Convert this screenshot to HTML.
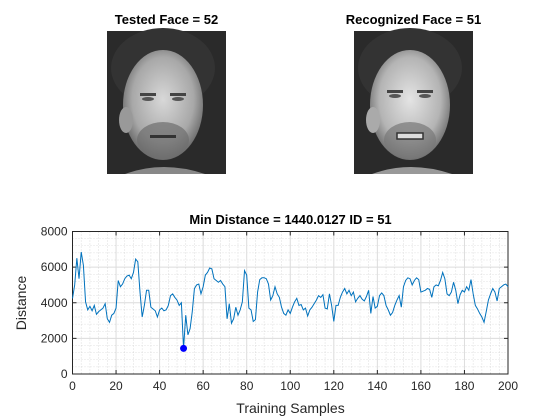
<!DOCTYPE html>
<html><head><meta charset="utf-8"><style>
body{margin:0;background:#fff;}
svg{display:block;font-family:"Liberation Sans",Arial,sans-serif;}
</style></head><body>
<svg id="fig" width="560" height="420" viewBox="0 0 560 420">
<defs>
<radialGradient id="skin" cx="50%" cy="45%" r="55%"><stop offset="0" stop-color="#d8d8d8"/><stop offset="0.7" stop-color="#a8a8a8"/><stop offset="1" stop-color="#6a6a6a"/></radialGradient>
<radialGradient id="skin2" cx="50%" cy="45%" r="55%"><stop offset="0" stop-color="#e4e4e4"/><stop offset="0.7" stop-color="#b4b4b4"/><stop offset="1" stop-color="#707070"/></radialGradient>
</defs>
<g>
<text x="166.5" y="24" text-anchor="middle" font-size="13" font-weight="bold" fill="#000">Tested Face = 52</text>
<g>
<rect x="107" y="31" width="119" height="143" fill="#2a2a2a"/>
<ellipse cx="163" cy="68" rx="52" ry="40" fill="#333"/>
<ellipse cx="163" cy="105" rx="40" ry="55" fill="url(#skin)"/>
<ellipse cx="126" cy="120" rx="7" ry="13" fill="#999"/>
<rect x="140" y="93" width="16" height="3" fill="#444"/><rect x="170" y="93" width="16" height="3" fill="#444"/>
<ellipse cx="148" cy="99" rx="6" ry="2" fill="#555"/><ellipse cx="178" cy="99" rx="6" ry="2" fill="#555"/>
<ellipse cx="163" cy="140" rx="26" ry="18" fill="#6e6e6e" opacity="0.7"/>
<rect x="150" y="135" width="26" height="3" fill="#333"/>
<path d="M125 174 Q163 160 205 174Z" fill="#888"/>
</g></g>
<g>
<text x="413.5" y="24" text-anchor="middle" font-size="13" font-weight="bold" fill="#000">Recognized Face = 51</text>
<g>
<rect x="354" y="31" width="119" height="143" fill="#2a2a2a"/>
<ellipse cx="410" cy="68" rx="52" ry="40" fill="#333"/>
<ellipse cx="410" cy="105" rx="40" ry="55" fill="url(#skin2)"/>
<ellipse cx="373" cy="120" rx="7" ry="13" fill="#aaa"/>
<rect x="387" y="90" width="16" height="3" fill="#444"/><rect x="417" y="90" width="16" height="3" fill="#444"/>
<ellipse cx="395" cy="96" rx="6" ry="2" fill="#555"/><ellipse cx="425" cy="96" rx="6" ry="2" fill="#555"/>
<ellipse cx="410" cy="140" rx="26" ry="18" fill="#777" opacity="0.7"/>
<rect x="397" y="133" width="26" height="6" fill="#ddd" stroke="#333" stroke-width="1.5"/>
<path d="M372 174 Q410 160 452 174Z" fill="#999"/>
</g></g>
<text x="290.5" y="224" text-anchor="middle" font-size="13" font-weight="bold" fill="#000">Min Distance = 1440.0127 ID = 51</text>
<g id="grid"></g>
<g id="axes"></g>
<path id="line" fill="none" stroke="#0072bd" stroke-width="1"/>
<circle id="minpt" r="3.5" fill="#0000ff"/>
<text x="26" y="303" transform="rotate(-90 26 303)" text-anchor="middle" font-size="14" fill="#262626">Distance</text>
<text x="290.5" y="413" text-anchor="middle" font-size="14" fill="#262626">Training Samples</text>
</svg>
<script>
const distances=[4240,5000,6500,5350,6850,6100,4050,3600,3800,3550,3850,3350,3500,3600,3700,3950,3100,2900,3300,3400,
3700,5250,4900,5050,5350,5500,5550,5350,5700,6450,6300,4600,3200,3850,4700,4700,3750,3650,3550,3200,
3600,3700,3550,3600,3850,4400,4500,4300,4150,3850,4000,1440,3300,2200,2550,3500,4800,5000,5050,4500,
4900,5550,5700,5950,5900,5350,5250,5150,5250,5050,4900,3100,3950,2850,3100,3750,3300,3600,4050,5800,
5550,3700,3600,2950,3050,4600,5300,5400,5400,5350,5050,4150,4400,4900,4500,4300,3750,3400,3300,3600,
3400,3750,4050,4250,3850,3900,3600,3700,3250,3600,3750,3950,4150,4400,4300,4450,3700,3650,4500,3850,
2950,3850,3850,4300,4600,4800,4500,4700,4400,4600,4050,4250,4400,4200,4100,4350,4700,3400,4350,3700,
3800,4400,4550,4400,3850,3600,3300,3450,3850,4150,4400,3750,4900,5250,5400,5350,5000,5250,5400,5300,
4600,4650,4700,4800,4750,4300,4900,5000,4950,5250,5700,5350,4500,4400,4600,5150,4700,3950,4450,4700,
4600,4900,4700,5300,4500,3850,3650,3400,3200,2900,3500,4150,4500,4800,4600,4100,4800,4900,5000,5050,4900];
const minIndex=51;
const minValue=1440.0127;
const xTicks=[0,20,40,60,80,100,120,140,160,180,200];
const yTicks=[0,2000,4000,6000,8000];
const L=72.5,R=508,T=231.5,B=374;
const xs=v=>L+(v-0)/(200-0)*(R-L);
const ys=v=>B-(v-0)/(8000-0)*(B-T);
const NS='http://www.w3.org/2000/svg';
function mk(tag,attrs,parent){const e=document.createElementNS(NS,tag);for(const k in attrs)e.setAttribute(k,attrs[k]);parent.appendChild(e);return e;}
const grid=document.getElementById('grid'),axes=document.getElementById('axes');
for(let v=0;v<=200;v+=4){if(v%20===0)continue;const g=mk('line',{x1:xs(v),x2:xs(v),y1:T,y2:B,stroke:'#c8c8c8','stroke-width':0.6,'stroke-dasharray':'1 2'},grid);

}
for(let v=0;v<=8000;v+=400){if(v%2000===0)continue;const g=mk('line',{x1:L,x2:R,y1:ys(v),y2:ys(v),stroke:'#c8c8c8','stroke-width':0.6,'stroke-dasharray':'1 2'},grid);

}
xTicks.forEach(v=>{const g=mk('line',{x1:xs(v),x2:xs(v),y1:T,y2:B,stroke:'#dcdcdc','stroke-width':1},grid);


mk('line',{x1:xs(v),x2:xs(v),y1:B,y2:B-4,stroke:'#262626'},axes);
mk('line',{x1:xs(v),x2:xs(v),y1:T,y2:T+4,stroke:'#262626'},axes);
const t=mk('text',{x:xs(v),y:B+16,'text-anchor':'middle','font-size':12,fill:'#262626'},axes);t.textContent=v;

});
yTicks.forEach(v=>{const g=mk('line',{x1:L,x2:R,y1:ys(v),y2:ys(v),stroke:'#dcdcdc','stroke-width':1},grid);


mk('line',{x1:L,x2:L+4,y1:ys(v),y2:ys(v),stroke:'#262626'},axes);
mk('line',{x1:R,x2:R-4,y1:ys(v),y2:ys(v),stroke:'#262626'},axes);
const t=mk('text',{x:L-5,y:ys(v)+4,'text-anchor':'end','font-size':12,fill:'#262626'},axes);t.textContent=v;

});
const box=mk('rect',{x:L,y:T,width:R-L,height:B-T,fill:'none',stroke:'#262626','stroke-width':1},axes);


document.getElementById('line').setAttribute('d',distances.map((d,i)=>(i?'L':'M')+xs(i).toFixed(2)+' '+ys(d).toFixed(2)).join(''));
const m=document.getElementById('minpt');m.setAttribute('cx',xs(minIndex));m.setAttribute('cy',ys(minValue));
</script>
</body></html>
